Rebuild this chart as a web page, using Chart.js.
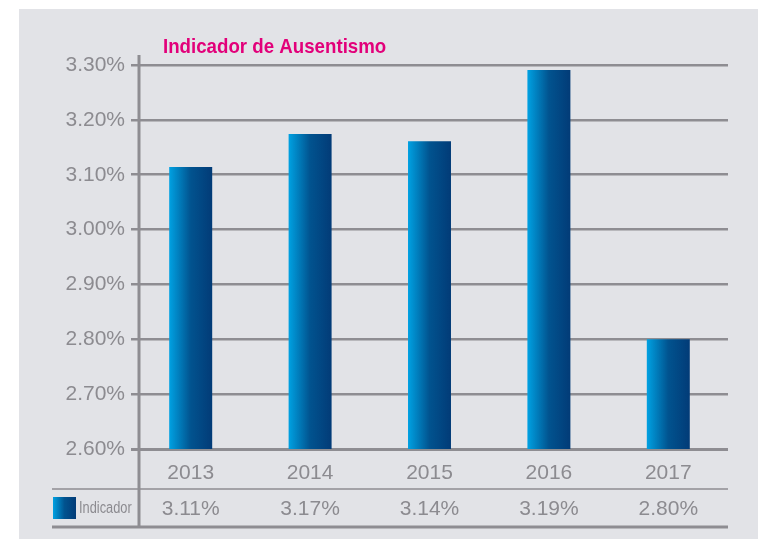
<!DOCTYPE html>
<html lang="es">
<head>
<meta charset="utf-8">
<title>Indicador de Ausentismo</title>
<script src="https://cdn.jsdelivr.net/npm/chart.js@4.4.1/dist/chart.umd.min.js"></script>
<style>
    html, body { margin: 0; background: #ffffff; }
    #panel { position: absolute; left: 19px; top: 9px; width: 739px; height: 530px; background: #e2e3e7; }
</style>
</head>
<body>
<div id="panel"><canvas id="barChart" width="739" height="530"></canvas></div>
<script>
// Datos del gráfico
const years = ['2013', '2014', '2015', '2016', '2017'];
const barValues = [3.114, 3.174, 3.161, 3.291, 2.80];   // altura de las barras
const tableValues = [3.11, 3.17, 3.14, 3.19, 2.80];     // fila de la tabla
const yRange = [2.6, 3.3];
const yStep = 0.1;
const seriesName = 'Indicador';
const chartTitle = 'Indicador de Ausentismo';

const gray = '#8e8d92';
const textGray = '#8c8b90';
const sans = "'Liberation Sans', Arial, sans-serif";

// Degradado horizontal de la barra
function barGradient(ctx, x0, x1) {
    const g = ctx.createLinearGradient(x0, 0, x1, 0);
    g.addColorStop(0, '#00a1e2');
    g.addColorStop(0.5, '#01538f');
    g.addColorStop(1, '#023b77');
    return g;
}

// texto estrechado horizontalmente (la fuente original es condensada)
function narrowText(ctx, text, x, y, squeeze) {
    ctx.save();
    ctx.translate(x, y);
    ctx.scale(squeeze, 1);
    ctx.fillText(text, 0, 0);
    ctx.restore();
}

// Título, eje vertical y tabla de datos
const decorPlugin = {
    id: 'decor',
    afterDraw(chart) {
        const { ctx, chartArea } = chart;
        const xs = chart.scales.x;
        const axisX = chartArea.left + 8;
        const rowTop = chartArea.bottom + 40;
        const rowBottom = chartArea.bottom + 78;
        const rowMid = (rowTop + rowBottom) / 2;
        const left = 33;

        ctx.save();
        // título
        ctx.fillStyle = '#e2007a';
        ctx.font = "bold 21px " + sans;
        ctx.textAlign = 'left';
        ctx.textBaseline = 'alphabetic';
        narrowText(ctx, chartTitle, chartArea.left + 32, chartArea.top - 12, 0.89);

        // líneas de la tabla
        ctx.strokeStyle = gray;
        ctx.lineWidth = 1.5;
        ctx.beginPath();
        ctx.moveTo(left, rowTop); ctx.lineTo(chartArea.right, rowTop);
        ctx.stroke();
        ctx.lineWidth = 3;
        ctx.beginPath();
        ctx.moveTo(left, rowBottom); ctx.lineTo(chartArea.right, rowBottom);
        ctx.stroke();
        // eje vertical
        ctx.beginPath();
        ctx.moveTo(axisX, chartArea.top - 10); ctx.lineTo(axisX, rowBottom);
        ctx.stroke();

        // leyenda
        ctx.fillStyle = barGradient(ctx, left + 1, left + 24);
        ctx.fillRect(left + 1, rowMid - 11, 23, 22);
        ctx.fillStyle = textGray;
        ctx.font = "16px " + sans;
        ctx.textBaseline = 'middle';
        narrowText(ctx, seriesName, left + 27, rowMid + 1, 0.8);

        // valores
        ctx.font = "21px " + sans;
        ctx.textAlign = 'center';
        tableValues.forEach((v, i) => {
            ctx.fillText(v.toFixed(2) + '%', xs.getPixelForValue(i), rowMid + 1);
        });
        ctx.restore();
    }
};

const ctx = document.getElementById('barChart').getContext('2d');

new Chart(ctx, {
    type: 'bar',
    data: {
        labels: years,
        datasets: [{
            label: seriesName,
            data: barValues,
            categoryPercentage: 0.72,
            barPercentage: 0.5,
            backgroundColor: (c) => {
                const chart = c.chart;
                const xs = chart.scales.x;
                if (!chart.chartArea || !xs || c.dataIndex === undefined) return '#01538f';
                const cx = xs.getPixelForValue(c.dataIndex);
                const w = xs.width / years.length * 0.72 * 0.5;
                return barGradient(chart.ctx, cx - w / 2, cx + w / 2);
            }
        }]
    },
    options: {
        responsive: false,
        animation: false,
        devicePixelRatio: 1,
        layout: { padding: { top: 56, right: 30, left: 0, bottom: 0 } },
        plugins: {
            legend: { display: false },
            title: { display: false },
            tooltip: { enabled: false }
        },
        scales: {
            x: {
                grid: { display: false, drawTicks: false },
                border: { display: false },
                ticks: { color: textGray, font: { family: sans, size: 21 }, padding: 12 },
                afterFit: (s) => { s.height = 90; }
            },
            y: {
                min: yRange[0],
                max: yRange[1],
                grid: {
                    color: gray,
                    lineWidth: (c) => (c.tick && Math.abs(c.tick.value - yRange[0]) < 1e-6 ? 3 : 2.5),
                    drawTicks: false
                },
                border: { display: false },
                ticks: {
                    stepSize: yStep,
                    color: textGray,
                    font: { family: sans, size: 21 },
                    padding: 6,
                    callback: (v) => Number(v).toFixed(2) + '%'
                },
                afterFit: (s) => { s.width = 112; }
            }
        }
    },
    plugins: [decorPlugin]
});
</script>
</body>
</html>
